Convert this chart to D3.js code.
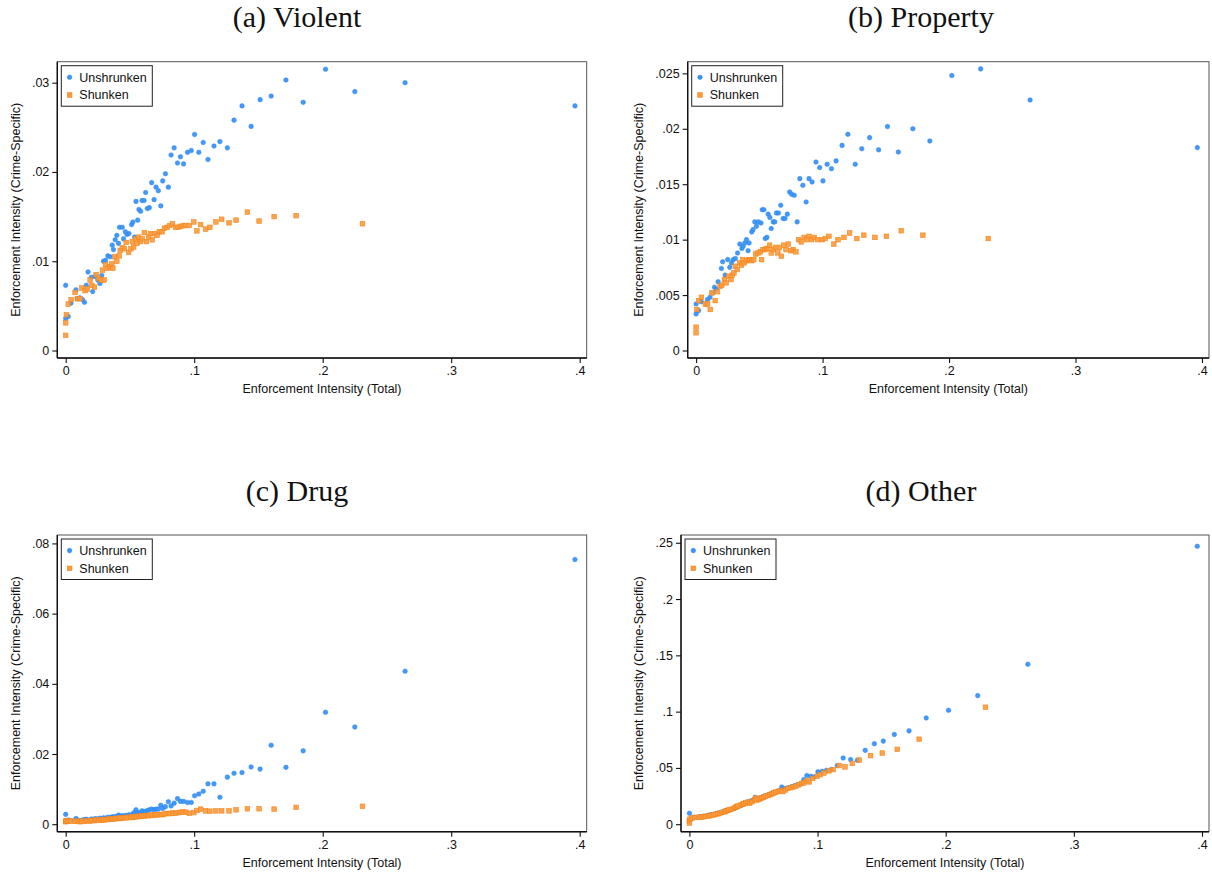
<!DOCTYPE html>
<html>
<head>
<meta charset="utf-8">
<script src="https://cdn.jsdelivr.net/npm/d3@7"></script>
<style>
  body { margin: 0; background: #fff; }
  svg { display: block; }
</style>
</head>
<body>
<div id="chart"></div>
<script>
// total enforcement intensity (x), shared by the four panels
const xUnshrunk = [
  0, 0, .002, .004, .008, .009, .011, .013, .0146, .016,
  .0174, .020, .021, .023, .025, .0266, .028, .0294, .031, .0328,
  .0346, .0362, .0372, .0385, .0398, .0411, .0419, .044, .045, .0464,
  .0477, .0492, .0513, .0523, .0536, .0547, .056, .057, .0583, .0594,
  .061, .0622, .0635, .0651, .0669, .0688, .0703, .0721, .074, .0755,
  .0776, .0799, .082, .0844, .087, .0893, .0917, .0948, .0977, .1003,
  .1036, .107, .1107, .1154, .12, .1258, .131, .1372, .1443, .1513,
  .1599, .1714, .1848, .2022, .225, .2641, .3963
];
const xShrunk = [
  0, 0, .0005, .002, .0042, .0073, .0091, .0112, .0125, .0151,
  .0169, .019, .0203, .0224, .0237, .0255, .0276, .0286, .0299, .031,
  .0326, .0344, .0359, .0367, .038, .0398, .0417, .0424, .044, .0456,
  .0471, .049, .0508, .0518, .0529, .0544, .0555, .0568, .0581, .0594,
  .0612, .0628, .0646, .0659, .0674, .0693, .0711, .0729, .075, .0768,
  .0789, .081, .0831, .0854, .0875, .0893, .0914, .0935, .0961, .0997,
  .1021, .105, .1089, .1122, .1169, .1214, .1271, .1326, .1414, .1505,
  .1622, .1793, .231
];

// crime-specific intensity (y)
const violentUnshrunk = [
  .0073, .0036, .0038, .0053, .0068, .0058, .0059, .0057, .0054, .0073,
  .0088, .0082, .0066, .0083, .0079, .0075, .0084, .0100, .0101, .0106,
  .0105, .0118, .0113, .0124, .0129, .0120, .0138, .0138, .0125, .0133,
  .0130, .0131, .0141, .0144, .0127, .0167, .0146, .0158, .0156, .0168,
  .0168, .0177, .0159, .0160, .0188, .0169, .0183, .0179, .0162, .0190,
  .0198, .0183, .0219, .0227, .0210, .0217, .0209, .0222, .0224, .0242,
  .0222, .0233, .0214, .0229, .0234, .0227, .0258, .0274, .0251, .0281,
  .0285, .0303, .0278, .0315, .0290, .0300, .0274
];
const violentShrunk = [
  .0017, .0031, .0040, .0052, .0057, .0065, .0058, .0058, .0070, .0067,
  .0069, .0079, .0073, .0071, .0085, .0081, .0079, .0090, .0079, .0096,
  .0092, .0094, .0097, .0092, .0105, .0100, .0106, .0112, .0115, .0114,
  .0121, .0110, .0114, .0122, .0116, .0125, .0120, .0127, .0122, .0125,
  .0132, .0122, .0127, .0131, .0124, .0131, .0129, .0133, .0133, .0137,
  .0138, .0140, .0142, .0138, .0138, .0139, .0140, .0140, .0140, .0144,
  .0134, .0141, .0136, .0138, .0144, .0147, .0143, .0146, .0155, .0145,
  .0150, .0151, .0142
];
const propertyUnshrunk = [
  .0042, .0033, .0036, .0044, .0042, .0046, .0048, .0052, .0057, .0055,
  .0062, .0074, .0080, .0068, .0082, .0075, .0079, .0082, .0083, .0088,
  .0096, .0092, .0094, .0097, .0100, .0090, .0097, .0107, .0109, .0116,
  .0112, .0116, .0115, .0127, .0127, .0101, .0102, .0123, .0120, .0110,
  .0116, .0116, .0124, .0124, .0131, .0119, .0119, .0123, .0143, .0141,
  .0140, .0116, .0155, .0149, .0134, .0155, .0152, .0170, .0165, .0153,
  .0168, .0164, .0171, .0185, .0195, .0168, .0182, .0192, .0181, .0202,
  .0179, .0200, .0189, .0248, .0254, .0226, .0183
];
const propertyShrunk = [
  .0016, .0021, .0037, .0045, .0048, .0042, .0042, .0037, .0052, .0045,
  .0053, .0058, .0059, .0064, .0061, .0067, .0064, .0068, .0070, .0076,
  .0073, .0079, .0077, .0082, .0079, .0081, .0082, .0082, .0081, .0082,
  .0087, .0088, .0089, .0082, .0091, .0091, .0092, .0092, .0095, .0088,
  .0091, .0093, .0088, .0093, .0085, .0095, .0091, .0096, .0090, .0091,
  .0089, .0100, .0098, .0102, .0100, .0103, .0100, .0102, .0100, .0100,
  .0101, .0103, .0096, .0100, .0102, .0106, .0101, .0104, .0102, .0103,
  .0108, .0104, .0101
];
const drugUnshrunk = [
  .0028, .0010, .0012, .0010, .0016, .0012, .0010, .0012, .0013, .0014,
  .0012, .0015, .0013, .0016, .0015, .0017, .0015, .0018, .0017, .0020,
  .0019, .0021, .0020, .0022, .0021, .0026, .0023, .0024, .0022, .0025,
  .0024, .0027, .0025, .0030, .0034, .0041, .0030, .0033, .0032, .0038,
  .0035, .0036, .0039, .0041, .0043, .0041, .0043, .0043, .0054, .0045,
  .0050, .0064, .0052, .0060, .0073, .0065, .0065, .0062, .0062, .0081,
  .0086, .0094, .0115, .0115, .0077, .0134, .0145, .0147, .0163, .0157,
  .0225, .0162, .0209, .0319, .0277, .0436, .0754
];
const drugShrunk = [
  .0007, .0009, .0010, .0008, .0009, .0008, .0009, .0007, .0009, .0008,
  .0010, .0009, .0011, .0010, .0012, .0011, .0012, .0013, .0012, .0014,
  .0013, .0015, .0014, .0016, .0015, .0017, .0016, .0018, .0017, .0019,
  .0018, .0020, .0019, .0021, .0020, .0022, .0021, .0023, .0022, .0024,
  .0023, .0025, .0024, .0026, .0025, .0027, .0026, .0028, .0027, .0029,
  .0031, .0030, .0032, .0031, .0033, .0034, .0035, .0034, .0031, .0033,
  .0039, .0043, .0038, .0037, .0038, .0038, .0038, .0041, .0044, .0044,
  .0043, .0048, .0051
];
const otherUnshrunk = [
  .0097, .0040, .0055, .0062, .0065, .0066, .0070, .0073, .0078, .0082,
  .0086, .0090, .0095, .0100, .0106, .0110, .0118, .0122, .0128, .0133,
  .0140, .0148, .0152, .0160, .0168, .0172, .0180, .0188, .0194, .0200,
  .0205, .0210, .0238, .0220, .0225, .0232, .0236, .0242, .0248, .0252,
  .0258, .0264, .0270, .0276, .0284, .0292, .0300, .0330, .0312, .0318,
  .0326, .0334, .0342, .0350, .0362, .0397, .0432, .0426, .0420, .0465,
  .0470, .0479, .0485, .0521, .0588, .0574, .0568, .0656, .0715, .0738,
  .0797, .0829, .0944, .1012, .1142, .1421, .2469
];
const otherShrunk = [
  .0010, .0030, .0045, .0055, .0060, .0062, .0063, .0066, .0070, .0073,
  .0078, .0082, .0088, .0092, .0098, .0105, .0110, .0118, .0122, .0128,
  .0132, .0140, .0150, .0155, .0162, .0170, .0178, .0182, .0190, .0196,
  .0185, .0200, .0218, .0232, .0215, .0222, .0228, .0235, .0240, .0248,
  .0255, .0262, .0270, .0278, .0285, .0292, .0298, .0290, .0305, .0318,
  .0325, .0330, .0338, .0350, .0362, .0368, .0385, .0376, .0406, .0426,
  .0440, .0455, .0474, .0485, .0521, .0509, .0540, .0570, .0609, .0632,
  .0665, .0755, .1039
];

const titles = ["(a) Violent", "(b) Property", "(c) Drug", "(d) Other"];
const legendLabels = ["Unshrunken", "Shunken"];
const xTicks = [0, .1, .2, .3, .4];
const xTickLabels = ["0", ".1", ".2", ".3", ".4"];
const yTicksViolent = [0, .01, .02, .03];
const yLabelsViolent = ["0", ".01", ".02", ".03"];
const yTicksProperty = [0, .005, .01, .015, .02, .025];
const yLabelsProperty = ["0", ".005", ".01", ".015", ".02", ".025"];
const yTicksDrug = [0, .02, .04, .06, .08];
const yLabelsDrug = ["0", ".02", ".04", ".06", ".08"];
const yTicksOther = [0, .05, .1, .15, .2, .25];
const yLabelsOther = ["0", ".05", ".1", ".15", ".2", ".25"];
const xTitle = "Enforcement Intensity (Total)";
const yTitle = "Enforcement Intensity (Crime-Specific)";

const width = 1212, height = 873;
const blue = "#3a93f6", orange = "#fb9a3c";
const sans = "'Liberation Sans', Arial, Helvetica, sans-serif";

// layout of each sub-graph (frame in page pixels, y value at frame top)
const panels = [
  { title: titles[0], left: 57.3, right: 586.7, top: 61.7, bottom: 358, yTop: .03235,
    titleX: 297, titleY: 27, yTitleX: 15, yTicks: yTicksViolent, yLabels: yLabelsViolent,
    u: violentUnshrunk, s: violentShrunk },
  { title: titles[1], left: 687.7, right: 1209, top: 61.7, bottom: 358, yTop: .02605,
    titleX: 921, titleY: 27, yTitleX: 638, yTicks: yTicksProperty, yLabels: yLabelsProperty,
    u: propertyUnshrunk, s: propertyShrunk },
  { title: titles[2], left: 57.3, right: 586.7, top: 535, bottom: 831.7, yTop: .0824,
    titleX: 297, titleY: 500.5, yTitleX: 15, yTicks: yTicksDrug, yLabels: yLabelsDrug,
    u: drugUnshrunk, s: drugShrunk },
  { title: titles[3], left: 681, right: 1209, top: 535, bottom: 831.7, yTop: .2569,
    titleX: 921, titleY: 500.5, yTitleX: 638, yTicks: yTicksOther, yLabels: yLabelsOther,
    u: otherUnshrunk, s: otherShrunk }
];

const svg = d3.select("#chart").append("svg")
  .attr("width", width)
  .attr("height", height)
  .attr("viewBox", [0, 0, width, height].join(" "));

svg.append("rect").attr("width", width).attr("height", height).attr("fill", "#fff");

panels.forEach(function(p) {
  var x = d3.scaleLinear().domain([0, .4]).range([p.left + 8.4, p.right - 7]);
  var y = d3.scaleLinear().domain([0, p.yTop]).range([p.bottom - 7.5, p.top]);

  var g = svg.append("g");

  // title
  g.append("text")
    .attr("x", p.titleX).attr("y", p.titleY)
    .attr("text-anchor", "middle")
    .attr("font-family", "'Liberation Serif', 'Times New Roman', serif")
    .attr("font-size", 30)
    .attr("fill", "#111")
    .text(p.title);

  // plot frame
  g.append("rect")
    .attr("x", p.left).attr("y", p.top)
    .attr("width", p.right - p.left).attr("height", p.bottom - p.top)
    .attr("fill", "none").attr("stroke", "#555").attr("stroke-width", 1);

  // axes
  var xAxis = d3.axisBottom(x).tickValues(xTicks)
    .tickFormat(function(d, i) { return xTickLabels[i]; })
    .tickSize(5).tickPadding(3);
  var yAxis = d3.axisLeft(y).tickValues(p.yTicks)
    .tickFormat(function(d, i) { return p.yLabels[i]; })
    .tickSize(5).tickPadding(3);

  var gx = g.append("g").attr("transform", "translate(0," + p.bottom + ")").call(xAxis);
  var gy = g.append("g").attr("transform", "translate(" + p.left + ",0)").call(yAxis);
  [gx, gy].forEach(function(a) {
    a.select(".domain").remove();
    a.selectAll(".tick line").attr("stroke", "#111").attr("stroke-width", 1.1);
    a.selectAll(".tick text")
      .attr("font-family", sans).attr("font-size", 12.5).attr("fill", "#111");
  });
  g.append("line")
    .attr("x1", p.left).attr("x2", p.right).attr("y1", p.bottom).attr("y2", p.bottom)
    .attr("stroke", "#111").attr("stroke-width", 1.4);
  g.append("line")
    .attr("x1", p.left).attr("x2", p.left).attr("y1", p.top).attr("y2", p.bottom)
    .attr("stroke", "#111").attr("stroke-width", 1.4);

  // axis titles
  g.append("text")
    .attr("x", (p.left + p.right) / 2).attr("y", p.bottom + 35.3)
    .attr("text-anchor", "middle")
    .attr("font-family", sans).attr("font-size", 12.5).attr("fill", "#111")
    .text(xTitle);
  g.append("text")
    .attr("transform", "translate(" + (p.yTitleX + 4.5) + "," + ((p.top + p.bottom) / 2) + ") rotate(-90)")
    .attr("text-anchor", "middle")
    .attr("font-family", sans).attr("font-size", 12.5).attr("fill", "#111")
    .text(yTitle);

  // markers: unshrunken circles then shrunken squares on top
  g.append("g").selectAll("circle")
    .data(xUnshrunk.map(function(v, i) { return [v, p.u[i]]; }))
    .join("circle")
    .attr("cx", function(d) { return x(d[0]); })
    .attr("cy", function(d) { return y(d[1]); })
    .attr("r", 2.3)
    .attr("fill", blue).attr("fill-opacity", 0.95)
    .attr("stroke", "#2a86f0").attr("stroke-width", 0.5);

  var sq = 4.6;
  g.append("g").selectAll("rect")
    .data(xShrunk.map(function(v, i) { return [v, p.s[i]]; }))
    .join("rect")
    .attr("x", function(d) { return x(d[0]) - sq / 2; })
    .attr("y", function(d) { return y(d[1]) - sq / 2; })
    .attr("width", sq).attr("height", sq)
    .attr("fill", orange).attr("fill-opacity", 0.9)
    .attr("stroke", "#f5851c").attr("stroke-width", 0.6);

  // legend
  var lg = g.append("g").attr("transform", "translate(" + (p.left + 4) + "," + (p.top + 4) + ")");
  lg.append("rect")
    .attr("width", 91).attr("height", 40.5)
    .attr("fill", "#fff").attr("stroke", "#222").attr("stroke-width", 1);
  lg.append("circle").attr("cx", 8.3).attr("cy", 11.6).attr("r", 2.3)
    .attr("fill", blue).attr("stroke", "#2a86f0").attr("stroke-width", 0.5);
  lg.append("rect").attr("x", 8.3 - sq / 2).attr("y", 29.3 - sq / 2)
    .attr("width", sq).attr("height", sq)
    .attr("fill", orange).attr("stroke", "#f5851c").attr("stroke-width", 0.6);
  lg.selectAll("text.leg")
    .data(legendLabels)
    .join("text")
    .attr("class", "leg")
    .attr("x", 18).attr("y", function(d, i) { return i === 0 ? 16 : 33.7; })
    .attr("font-family", sans).attr("font-size", 12.5).attr("fill", "#111")
    .text(function(d) { return d; });
});
</script>
</body>
</html>
